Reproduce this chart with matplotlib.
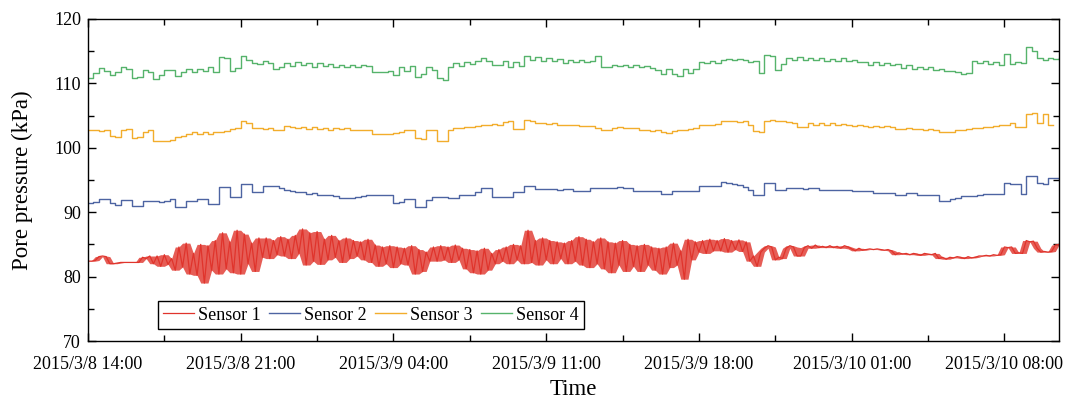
import datetime as dt

import numpy as np
import matplotlib
matplotlib.use("Agg")
import matplotlib.pyplot as plt
import matplotlib.dates as mdates
from matplotlib.ticker import FuncFormatter, MultipleLocator

plt.rcParams["font.family"] = ["Liberation Serif", "DejaVu Serif"]

start = dt.datetime(2015, 3, 8, 14, 0)
span_hours = 44.5
tick_hours = 7
n_ticks = 7

labels = ["Sensor 1", "Sensor 2", "Sensor 3", "Sensor 4"]
colors = ["#e0342c", "#4d64a2", "#f2ad2c", "#56b36b"]

# sensor 1: one row per hour, 10 min apart
s1_step = 10
sensor1 = [
    82.4, 82.4, 82.5, 83.1, 83.2, 83.1,
    82.0, 82.0, 82.1, 82.2, 82.2, 82.2,
    82.2, 82.2, 82.2, 83.0, 82.8, 83.2,
    82.0, 83.2, 81.6, 83.4, 81.9, 82.8,
    81.0, 84.6, 81.5, 85.2, 80.4, 83.6,
    80.2, 85.0, 79.0, 84.8, 81.0, 85.6,
    80.4, 86.8, 81.2, 85.4, 80.6, 87.2,
    80.4, 86.6, 82.0, 85.2, 80.8, 86.0,
    83.0, 86.0, 82.8, 85.6, 83.4, 86.2,
    83.2, 85.8, 82.8, 86.4, 83.6, 87.4,
    81.8, 86.8, 82.4, 87.0, 81.9, 85.8,
    82.6, 86.4, 83.0, 85.6, 82.2, 86.0,
    82.8, 85.6, 83.2, 85.4, 82.6, 85.8,
    82.2, 84.9, 81.6, 84.6, 82.0, 84.8,
    81.4, 84.6, 82.0, 84.4, 81.8, 84.8,
    80.4, 84.2, 80.8, 83.8, 82.4, 84.6,
    82.4, 84.8, 82.6, 84.6, 82.2, 84.9,
    82.6, 84.4, 81.2, 84.2, 80.6, 84.0,
    80.4, 84.4, 81.0, 83.6, 82.0, 84.2,
    82.4, 84.6, 82.0, 85.0, 82.6, 84.8,
    82.0, 87.2, 82.2, 85.6, 81.8, 86.0,
    82.6, 85.6, 82.0, 85.4, 82.8, 85.2,
    82.0, 85.6, 82.4, 86.2, 81.8, 85.8,
    81.4, 85.4, 82.0, 86.0, 81.2, 85.4,
    80.6, 85.2, 81.8, 85.6, 80.8, 85.0,
    81.6, 84.8, 80.8, 85.0, 81.8, 84.6,
    81.0, 84.4, 80.4, 84.6, 81.4, 85.2,
    81.8, 84.0, 79.6, 85.8, 82.6, 85.4,
    83.8, 85.6, 83.6, 85.8, 84.0, 85.6,
    84.0, 85.9, 83.8, 85.6, 84.2, 85.7,
    83.9, 85.4, 82.4, 83.2, 81.6, 83.8,
    84.4, 84.8, 84.6, 82.6, 83.0, 82.8,
    84.4, 84.8, 84.6, 83.2, 83.2, 84.5,
    84.8, 84.4, 84.9, 84.5, 84.7, 84.5,
    84.8, 84.5, 84.7, 84.4, 84.8, 84.6,
    84.3, 84.0, 84.4, 84.1, 84.2, 84.3,
    84.2, 84.3, 84.2, 84.1, 84.2, 84.0,
    83.4, 83.7, 83.5, 83.6, 83.4, 83.6,
    83.5, 83.3, 83.6, 83.5, 83.4, 83.6,
    82.8, 83.0, 82.7, 83.0, 82.9, 83.1,
    83.0, 82.8, 83.1, 82.9, 83.0, 83.2,
    83.2, 83.3, 83.2, 83.4, 83.3, 83.4,
    84.6, 84.5, 84.6, 83.6, 83.7, 83.6,
    85.6, 85.4, 85.5, 84.4, 83.8, 83.9,
    83.8, 83.9, 84.9, 85.0,
]

# sensors 2-4: one row per two hours, 15 min apart
step = 15
sensor2 = [
    91.5, 91.6, 92.1, 92.0, 91.4, 91.1, 91.9, 91.9,
    91.0, 91.0, 91.7, 91.7, 91.7, 91.6, 91.7, 92.1,
    90.8, 90.8, 91.7, 91.7, 92.1, 92.1, 91.2, 91.2,
    93.9, 93.9, 92.3, 92.3, 94.4, 94.4, 93.1, 93.1,
    94.0, 94.0, 94.0, 93.7, 93.4, 93.3, 93.2, 93.1,
    92.9, 93.0, 92.6, 92.6, 92.6, 92.5, 92.2, 92.2,
    92.2, 92.4, 92.5, 92.6, 92.7, 92.7, 92.7, 92.7,
    91.5, 91.6, 92.1, 92.1, 90.8, 90.8, 91.9, 92.3,
    92.3, 92.3, 92.2, 92.2, 92.6, 92.6, 92.6, 93.1,
    93.8, 93.8, 92.4, 92.4, 92.4, 92.4, 93.1, 93.1,
    94.1, 94.1, 93.6, 93.6, 93.6, 93.6, 93.5, 93.6,
    93.6, 93.3, 93.3, 93.3, 93.7, 93.7, 93.7, 93.7,
    93.8, 93.9, 93.8, 93.7, 93.3, 93.3, 93.3, 93.3,
    93.3, 92.9, 92.9, 93.3, 93.3, 93.3, 93.3, 93.3,
    94.0, 94.0, 94.0, 94.0, 94.7, 94.6, 94.4, 94.2,
    93.9, 93.4, 92.7, 92.7, 94.6, 94.6, 93.5, 93.4,
    93.7, 93.7, 93.7, 93.6, 93.7, 93.7, 93.5, 93.5,
    93.5, 93.4, 93.5, 93.5, 93.3, 93.3, 93.3, 93.3,
    93.0, 93.0, 93.0, 93.0, 92.6, 92.6, 93.0, 93.0,
    92.6, 92.6, 92.6, 92.6, 91.8, 91.8, 92.0, 92.2,
    92.5, 92.5, 92.5, 92.7, 92.9, 92.9, 92.9, 92.9,
    94.5, 94.4, 94.4, 92.9, 95.6, 95.6, 94.5, 94.4,
    95.3, 95.3, 95.2,
]
sensor3 = [
    102.7, 102.7, 102.6, 102.8, 101.8, 101.7, 102.8, 102.9,
    101.5, 101.6, 102.4, 102.7, 101.1, 101.1, 101.1, 101.2,
    101.6, 101.9, 102.2, 102.4, 102.1, 102.5, 102.2, 102.4,
    102.5, 102.6, 102.9, 103.0, 104.2, 103.8, 103.0, 103.1,
    102.9, 103.0, 102.8, 102.8, 103.4, 103.3, 103.0, 103.2,
    102.9, 103.2, 102.9, 103.1, 102.8, 103.1, 102.9, 103.0,
    102.8, 102.8, 102.8, 102.7, 102.1, 102.1, 102.2, 102.2,
    102.3, 102.5, 102.7, 102.8, 101.5, 101.4, 102.7, 102.8,
    101.0, 101.0, 102.8, 103.0, 103.1, 103.2, 103.3, 103.4,
    103.6, 103.5, 103.7, 103.6, 104.0, 104.1, 102.9, 102.9,
    104.3, 104.2, 103.8, 103.9, 103.7, 103.8, 103.5, 103.5,
    103.5, 103.5, 103.4, 103.4, 103.4, 103.0, 102.7, 102.7,
    103.1, 103.2, 103.0, 103.1, 103.0, 102.7, 102.8, 102.6,
    102.7, 102.5, 102.3, 102.6, 102.7, 102.8, 102.9, 103.1,
    103.5, 103.6, 103.6, 103.7, 104.2, 104.1, 104.2, 104.0,
    104.1, 103.5, 102.6, 102.5, 104.2, 104.3, 104.1, 104.2,
    104.0, 103.8, 103.2, 103.3, 103.8, 103.6, 103.9, 103.6,
    103.8, 103.5, 103.7, 103.6, 103.4, 103.5, 103.4, 103.3,
    103.4, 103.3, 103.4, 103.3, 102.9, 102.9, 103.0, 102.9,
    102.9, 102.7, 102.9, 102.7, 102.4, 102.4, 102.5, 102.7,
    102.8, 102.9, 103.0, 103.1, 103.2, 103.3, 103.4, 103.5,
    103.6, 103.8, 103.2, 103.2, 105.3, 105.4, 103.8, 105.2,
    103.6, float("nan"), float("nan"),
]
sensor4 = [
    110.8, 111.6, 112.4, 112.0, 111.3, 111.7, 112.6, 112.3,
    110.8, 111.0, 112.1, 111.8, 110.7, 111.3, 112.1, 112.1,
    111.2, 111.8, 112.2, 111.7, 112.3, 111.9, 112.5, 111.8,
    114.1, 114.0, 112.0, 112.4, 114.3, 113.6, 113.2, 113.0,
    113.4, 113.1, 112.2, 112.5, 113.2, 112.7, 113.3, 112.8,
    113.2, 112.6, 113.1, 112.7, 113.0, 112.5, 112.9, 112.5,
    112.8, 112.6, 112.8, 112.7, 111.8, 111.8, 111.8, 111.9,
    111.3, 112.6, 112.0, 112.7, 111.0, 111.4, 112.5, 112.1,
    110.9, 110.5, 112.6, 113.1, 112.7, 113.3, 113.0, 113.4,
    113.9, 113.5, 112.8, 112.9, 113.4, 112.6, 113.3, 112.7,
    114.2, 113.6, 114.1, 113.5, 114.0, 113.4, 113.8, 113.2,
    113.7, 113.3, 113.6, 113.3, 113.5, 114.2, 112.5, 112.6,
    112.9, 112.7, 112.9, 112.6, 112.8, 112.5, 112.7, 112.4,
    112.1, 111.5, 112.3, 111.4, 111.2, 112.3, 111.6, 112.2,
    113.3, 113.1, 113.4, 113.2, 113.7, 113.8, 113.6, 113.8,
    113.6, 113.3, 113.4, 111.6, 114.4, 114.3, 112.1, 113.0,
    114.0, 113.6, 114.1, 113.7, 114.0, 113.6, 113.9, 113.5,
    113.8, 113.5, 113.9, 113.4, 113.7, 113.3, 113.3, 112.9,
    113.3, 112.9, 113.2, 112.8, 113.0, 112.4, 112.8, 112.2,
    112.6, 112.3, 112.5, 112.1, 112.3, 111.9, 112.0, 111.8,
    111.5, 111.6, 113.4, 113.1, 113.4, 113.0, 113.3, 112.8,
    114.5, 113.0, 113.3, 113.1, 115.6, 115.1, 114.0, 113.7,
    114.0, 113.8, 114.0,
]


def times(values, minutes):
    return [start + dt.timedelta(minutes=minutes * i) for i in range(len(values))]


def fmt_date(x, pos):
    d = mdates.num2date(x)
    return f"{d.year}/{d.month}/{d.day} {d:%H:%M}"


fig = plt.figure(figsize=(10.81, 3.98), dpi=100)
ax = fig.add_axes([0.0814, 0.1432, 0.8982, 0.8091])

# sensor 1 is very noisy: shade the spread between neighbouring readings
v1 = np.array(sensor1)
pad = np.pad(v1, 1, mode="edge")
lo = np.minimum(np.minimum(pad[:-2], pad[1:-1]), pad[2:])
hi = np.maximum(np.maximum(pad[:-2], pad[1:-1]), pad[2:])
t1 = times(sensor1, s1_step)
ax.fill_between(t1, lo, hi, color=colors[0], alpha=0.8, lw=0)
ax.plot(t1, sensor1, color=colors[0], lw=0.9, label=labels[0])

for vals, c, lab in zip([sensor2, sensor3, sensor4], colors[1:], labels[1:]):
    ax.plot(times(vals, step), vals, color=c, lw=1.0, drawstyle="steps-post", label=lab)

major = [start + dt.timedelta(hours=tick_hours * k) for k in range(n_ticks)]
minor = [t + dt.timedelta(hours=tick_hours / 2) for t in major]
ax.set_xticks(mdates.date2num(major))
ax.set_xticks(mdates.date2num(minor), minor=True)
ax.xaxis.set_major_formatter(FuncFormatter(fmt_date))
ax.set_xlim(start, start + dt.timedelta(hours=span_hours))

ax.set_ylim(70, 120)
ax.yaxis.set_major_locator(MultipleLocator(10))
ax.yaxis.set_minor_locator(MultipleLocator(5))

ax.tick_params(which="both", direction="in", top=True, right=True, labelsize=13, width=1)
ax.tick_params(which="major", length=6)
ax.tick_params(which="minor", length=4)
ax.tick_params(axis="x", pad=11)
ax.tick_params(axis="y", pad=5)
for s in ax.spines.values():
    s.set_linewidth(1)

ax.set_xlabel("Time", fontsize=16.5, labelpad=4)
ax.set_ylabel("Pore pressure (kPa)", fontsize=16.5, labelpad=15)

leg = ax.legend(loc="lower left", bbox_to_anchor=(0.072, 0.037), borderaxespad=0,
                ncol=4, fontsize=13, frameon=True, fancybox=False, framealpha=1,
                edgecolor="black", handlelength=1.7, handletextpad=0.2,
                columnspacing=0.5, borderpad=0.3)
leg.get_frame().set_linewidth(1)

fig.savefig("out.png", dpi=100)
